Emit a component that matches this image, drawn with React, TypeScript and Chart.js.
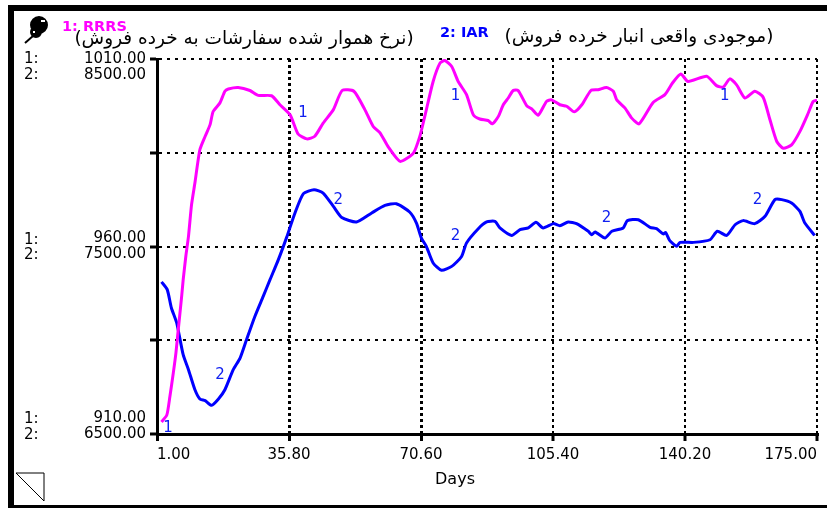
import React, { useEffect, useRef } from "react";
import { Chart, registerables } from "chart.js";

Chart.register(...registerables);

const rrrsDays = [2.2,3.6,4.4,5.3,6.0,6.6,7.5,7.9,8.6,9.3,10.1,11.0,12.3,13.7,15.0,15.8,17.6,18.9,19.8,22.4,25.5,27.7,31.2,33.4,36.1,38.2,40.5,42.6,44.8,47.5,49.8,52.9,55.8,58,59.8,62,65.1,68.6,70.3,71.6,73.8,75.6,76.9,78.7,80.4,82.6,84.4,86.1,88.3,89.4,91,92.3,93.6,94.9,96.2,98.5,99.8,101.5,103.7,105,107.2,109,111,113,115.4,117.3,119.5,121.3,122.2,124.4,126.1,128.1,131.8,134.9,136.9,139.1,141,145.9,148.5,150.3,152,153.8,156,158.6,160.8,162.6,164.4,166.1,168.3,170.5,172.7,174,175];
const rrrsValues = [913.2,915.1,920,926.3,931.7,937.8,946.7,951.1,957.4,962.7,971.1,977,985.8,989.4,992.5,996,998.3,1001.4,1002,1002.4,1001.6,1000.3,1000.2,997.8,995.1,990,988.7,989.4,992.9,996.5,1001.6,1001.4,996.5,992,990.3,986.5,982.7,984.9,989.4,994.7,1004,1008.9,1009.6,1008,1004,1000.5,995.1,994,993.6,992.7,994.7,997.8,999.6,1001.6,1001.6,997.5,996.7,995,998.7,999.1,997.8,997.4,995.9,997.8,1001.6,1001.8,1002.4,1001.4,999.1,996.9,994.3,992.7,998.4,1000.5,1003.6,1006,1004,1005.4,1002.9,1002.5,1004.7,1003.1,999.6,1001.4,999.8,993.8,988,986.2,987.1,990.7,995.6,998.7,999];

const iarDays = [2.2,3.7,4.8,6.2,7.9,9.3,11,12.3,13.7,15.4,17.2,18.9,21.1,22.9,24.6,26.8,29,30.8,33,35.2,37.4,39.6,42.4,44.8,47.5,49.7,53.6,57.6,61.1,64.1,67.6,69.4,70.7,72,73.8,76,78.7,81.3,82.6,85.7,87.9,90.1,91.4,94.5,96.7,98.9,100.9,102.8,105.5,107.2,109.4,111.6,114.7,115.6,116.5,119.1,120.9,123.9,125,127.9,131,132.7,134.5,135.1,136.2,138,138.9,142.4,146.8,148.7,151.2,153.4,155.5,158.6,161.3,163.9,165.7,168.3,170.5,171.8,174.4];
const iarValues = [7311,7270,7172,7092,6923,6843,6736,6687,6678,6653,6687,6736,6843,6905,7003,7127,7234,7323,7430,7550,7680,7782,7803,7785,7714,7655,7631,7679,7719,7728,7684,7625,7545,7501,7412,7373,7394,7447,7519,7595,7631,7634,7599,7559,7590,7599,7629,7599,7622,7611,7631,7622,7581,7563,7577,7545,7581,7599,7638,7643,7602,7595,7567,7575,7531,7501,7522,7522,7536,7581,7559,7616,7638,7622,7661,7750,7750,7732,7687,7625,7559];

const xTicks = [1, 35.8, 70.6, 105.4, 140.2, 175];
const yTicks = [1010, 985, 960, 935, 910];
const rrrsTickLabels = ["1010.00", "", "960.00", "", "910.00"];
const iarTickLabels = ["8500.00", "", "7500.00", "", "6500.00"];

const rrrsMarkerDays = [3.9, 39.5, 79.7, 150.7];
const rrrsMarkerValues = [911.7, 995.7, 1000, 1000];
const iarMarkerDays = [17.6, 48.8, 79.7, 119.5, 159.3];
const iarMarkerValues = [6813, 7746, 7554, 7652, 7746];

const legendRRRS = "1: RRRS";
const legendIAR = "2: IAR";
const captionRRRS = "(نرخ هموار شده سفارشات به خرده فروش)";
const captionIAR = "(موجودی واقعی انبار خرده فروش)";
const xAxisName = "Days";

const FONT = '"DejaVu Sans", sans-serif';
const MAGENTA = "#ff00ff";
const BLUE = "#0000ff";

const decor = {
  id: "decor",
  beforeDraw(chart: any) {
    const c = chart.ctx;
    c.save();
    c.fillStyle = "#000";
    c.fillRect(8, 5, 819, 6);
    c.fillRect(8, 5, 6, 503);
    c.fillRect(8, 505, 819, 3);
    c.strokeStyle = "#000";
    c.lineWidth = 1;
    c.beginPath();
    c.moveTo(16, 473);
    c.lineTo(44, 473);
    c.lineTo(44, 501);
    c.closePath();
    c.stroke();
    c.beginPath();
    c.arc(39, 25, 9, 0, Math.PI * 2);
    c.arc(36, 32, 6, 0, Math.PI * 2);
    c.fill();
    c.lineWidth = 2;
    c.beginPath();
    c.moveTo(33, 36);
    c.lineTo(25, 43);
    c.stroke();
    c.fillStyle = "#fff";
    c.fillRect(41, 20, 4, 2);
    c.fillRect(33, 31, 2, 2);
    c.restore();
  },
  afterDraw(chart: any) {
    const c = chart.ctx;
    c.save();
    c.textBaseline = "middle";
    c.fillStyle = "#000";
    c.font = `15px ${FONT}`;
    c.textAlign = "left";
    [[59, "1:"], [75, "2:"], [240, "1:"], [255, "2:"], [419, "1:"], [435, "2:"]].forEach(([y, t]: any) => {
      c.fillText(t, 24, y);
    });
    c.font = `16px ${FONT}`;
    c.textAlign = "center";
    c.fillText(xAxisName, 455, 480);

    c.font = `bold 14.5px ${FONT}`;
    c.textAlign = "left";
    c.fillStyle = MAGENTA;
    c.fillText(legendRRRS, 62, 27);
    c.fillStyle = BLUE;
    c.fillText(legendIAR, 440, 33);

    c.fillStyle = "#000";
    c.font = `18.5px ${FONT}`;
    c.textAlign = "center";
    c.direction = "rtl";
    c.fillText(captionRRRS, 244, 39);
    c.fillText(captionIAR, 639, 37);
    c.direction = "ltr";

    c.font = `15px ${FONT}`;
    c.fillStyle = "#1020f0";
    rrrsMarkerDays.forEach((d, i) => {
      c.fillText("1", chart.scales.x.getPixelForValue(d), chart.scales.y.getPixelForValue(rrrsMarkerValues[i]));
    });
    iarMarkerDays.forEach((d, i) => {
      c.fillText("2", chart.scales.x.getPixelForValue(d), chart.scales.y2.getPixelForValue(iarMarkerValues[i]));
    });
    c.restore();
  },
};

export default function App() {
  const ref = useRef<HTMLCanvasElement>(null);
  useEffect(() => {
    document.body.style.margin = "0";
    const chart = new Chart(ref.current as HTMLCanvasElement, {
      type: "line",
      data: {
        datasets: [
          {
            label: "RRRS",
            data: rrrsDays.map((x, i) => ({ x, y: rrrsValues[i] })),
            yAxisID: "y",
            borderColor: MAGENTA,
            borderWidth: 3,
            pointRadius: 0,
            tension: 0.2,
          },
          {
            label: "IAR",
            data: iarDays.map((x, i) => ({ x, y: iarValues[i] })),
            yAxisID: "y2",
            borderColor: BLUE,
            borderWidth: 3,
            pointRadius: 0,
            tension: 0.2,
          },
        ],
      },
      options: {
        responsive: false,
        animation: false,
        layout: { padding: { top: 59, right: 10, left: 0, bottom: 0 } },
        plugins: { legend: { display: false }, tooltip: { enabled: false }, title: { display: false } },
        scales: {
          x: {
            type: "linear",
            min: 1,
            max: 175,
            afterBuildTicks: (s: any) => { s.ticks = xTicks.map((value) => ({ value })); },
            afterFit: (s: any) => { s.height = 74; },
            border: { display: true, color: "#000", width: 3, dash: [3, 3] },
            grid: {
              color: "#000",
              lineWidth: (ctx: any) => (ctx.index < 3 ? 3 : 2),
              tickColor: "#000",
              tickWidth: 3,
              tickLength: 7,
            },
            ticks: {
              autoSkip: false,
              maxRotation: 0,
              align: "inner",
              padding: 5,
              color: "#000",
              font: { family: FONT, size: 15 },
              callback: (v: any) => Number(v).toFixed(2),
            },
          },
          y: {
            type: "linear",
            position: "left",
            min: 910,
            max: 1010,
            afterBuildTicks: (s: any) => { s.ticks = yTicks.map((value) => ({ value })); },
            afterFit: (s: any) => { s.width = 157; },
            border: { display: true, color: "#000", width: 3, dash: [3, 5] },
            grid: { color: "#000", lineWidth: 2, tickColor: "#000", tickWidth: 3, tickLength: 7 },
            ticks: {
              autoSkip: false,
              padding: 4,
              color: "#000",
              font: { family: FONT, size: 15, lineHeight: "16px" },
              callback: (_v: any, i: number) => {
                const a = rrrsTickLabels[i];
                const b = iarTickLabels[i];
                if (!a) return "";
                if (i === 0) return ["", a, b];
                if (i === yTicks.length - 1) return [a, b, ""];
                return [a, b];
              },
            },
          },
          y2: { type: "linear", display: false, min: 6500, max: 8500 },
        },
      },
      plugins: [decor],
    } as any);
    return () => chart.destroy();
  }, []);
  return <canvas ref={ref} width={827} height={508} style={{ display: "block" }} />;
}
